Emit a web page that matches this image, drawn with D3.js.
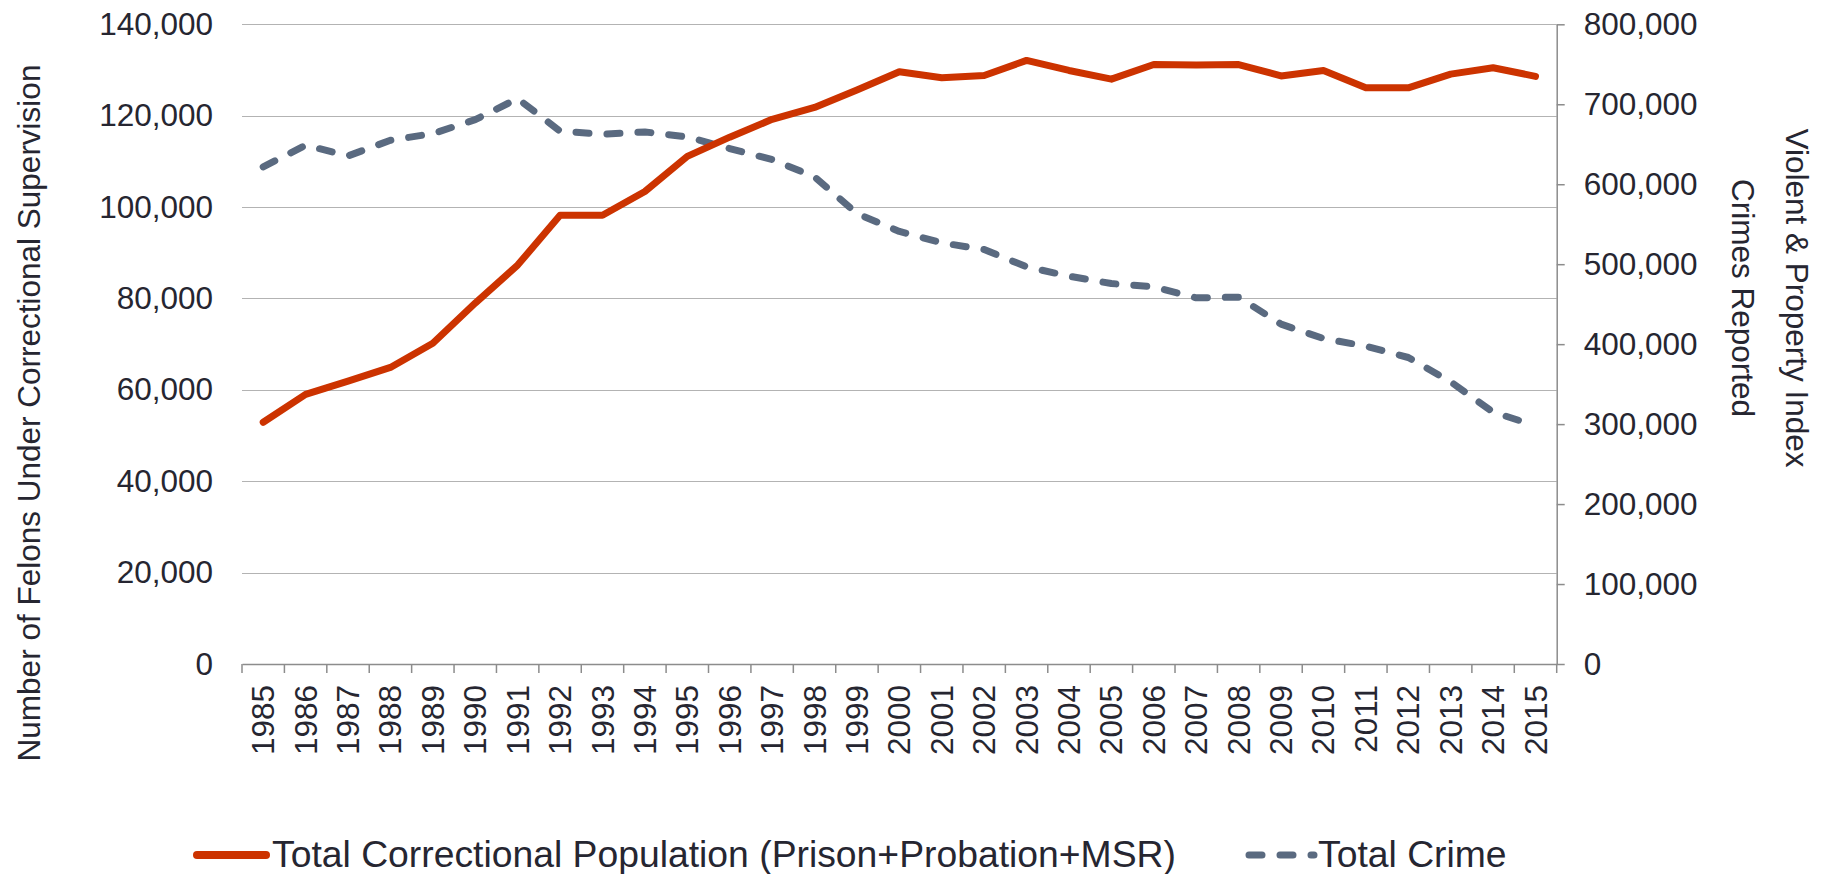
<!DOCTYPE html>
<html>
<head>
<meta charset="utf-8">
<script src="https://cdn.jsdelivr.net/npm/d3@7"></script>
<style>
  html, body { margin: 0; padding: 0; background: #ffffff; }
  svg { display: block; }
  text { font-family: "Liberation Sans", Arial, sans-serif; fill: #262631; }
</style>
</head>
<body>
<svg id="chart" width="1828" height="874"></svg>
<script>
const years = ["1985","1986","1987","1988","1989","1990","1991","1992","1993","1994","1995","1996","1997","1998","1999","2000","2001","2002","2003","2004","2005","2006","2007","2008","2009","2010","2011","2012","2013","2014","2015"];
const correctional = [52900, 59000, 61900, 64900, 70200, 79000, 87300, 98200, 98200, 103400, 111100, 115300, 119200, 121800, 125600, 129600, 128300, 128800, 132100, 129900, 128000, 131200, 131100, 131200, 128700, 129900, 126100, 126100, 129100, 130500, 128600];
const crime = [621700, 648800, 635400, 655000, 663300, 680800, 707100, 666300, 662500, 665400, 659200, 644600, 630800, 609200, 563300, 541000, 526700, 518300, 496700, 485000, 475800, 471700, 457900, 458800, 425000, 407100, 397500, 383300, 352900, 315000, 298000];
const leftTicks = [0, 20000, 40000, 60000, 80000, 100000, 120000, 140000];
const rightTicks = [0, 100000, 200000, 300000, 400000, 500000, 600000, 700000, 800000];
const seriesNames = ["Total Correctional Population (Prison+Probation+MSR)", "Total Crime"];
const leftTitle = "Number of Felons Under Correctional Supervision";
const rightTitleLines = ["Violent & Property Index", "Crimes Reported"];

const RED = "#cc3300", SLATE = "#5a6a80", GRID = "#b3b3b3", AXIS = "#8c8c8c";
const svg = d3.select("#chart");
const L = 242, R = 1556.7, T = 24.3, B = 664;

const x = d3.scaleBand().domain(years).range([L, R]).padding(0);
const yL = d3.scaleLinear().domain([0, 140000]).range([B, T]);
const yR = d3.scaleLinear().domain([0, 800000]).range([B, T]);
const fmt = d3.format(",");

// gridlines
svg.append("g").selectAll("line").data(leftTicks.filter(d => d > 0)).join("line")
  .attr("x1", L).attr("x2", R)
  .attr("y1", d => Math.round(yL(d)) + 0.5).attr("y2", d => Math.round(yL(d)) + 0.5)
  .attr("stroke", GRID).attr("stroke-width", 1);

// left axis labels (no line)
const gl = svg.append("g").attr("transform", `translate(${L},0)`)
  .call(d3.axisLeft(yL).tickValues(leftTicks).tickFormat(fmt).tickSize(0).tickPadding(29));
gl.select(".domain").remove();
gl.selectAll("text").attr("font-size", 31.5).attr("fill", "#262631")
  .style("font-family", '"Liberation Sans", Arial, sans-serif');

// right axis
const gr = svg.append("g").attr("transform", `translate(${R},0)`)
  .call(d3.axisRight(yR).tickValues(rightTicks).tickFormat(fmt).tickSize(8).tickSizeOuter(0).tickPadding(19));
gr.select(".domain").attr("stroke", AXIS).attr("stroke-width", 1.5);
gr.selectAll(".tick line").attr("stroke", AXIS).attr("stroke-width", 1.5);
gr.selectAll("text").attr("font-size", 31.5).attr("fill", "#262631")
  .style("font-family", '"Liberation Sans", Arial, sans-serif');

// bottom axis
const gb = svg.append("g").attr("transform", `translate(0,${B})`)
  .call(d3.axisBottom(x).tickSize(0).tickPadding(0));
gb.select(".domain").attr("stroke", AXIS).attr("stroke-width", 1.5);
gb.selectAll(".tick text")
  .attr("font-size", 31.5).attr("fill", "#262631")
  .style("font-family", '"Liberation Sans", Arial, sans-serif')
  .attr("text-anchor", "end")
  .attr("transform", "rotate(-90)")
  .attr("x", -21).attr("y", 0).attr("dy", "0.35em");
// boundary ticks
const bounds = years.map(d => x(d)).concat([x(years[years.length - 1]) + x.bandwidth()]);
svg.append("g").selectAll("line").data(bounds).join("line")
  .attr("x1", d => d).attr("x2", d => d).attr("y1", B).attr("y2", B + 9)
  .attr("stroke", AXIS).attr("stroke-width", 1.5);

// lines
const cx = d => x(d) + x.bandwidth() / 2;
const lineL = d3.line().x((d, i) => cx(years[i])).y(d => yL(d));
const lineR = d3.line().x((d, i) => cx(years[i])).y(d => yR(d));

svg.append("path").datum(crime).attr("d", lineR)
  .attr("fill", "none").attr("stroke", SLATE).attr("stroke-width", 7)
  .attr("stroke-dasharray", "13,18").attr("stroke-linecap", "round").attr("stroke-linejoin", "round");
svg.append("path").datum(correctional).attr("d", lineL)
  .attr("fill", "none").attr("stroke", RED).attr("stroke-width", 7)
  .attr("stroke-linecap", "round").attr("stroke-linejoin", "round");

// axis titles
svg.append("text").attr("transform", "translate(40,413) rotate(-90)")
  .attr("text-anchor", "middle").attr("font-size", 31.5).text(leftTitle);
svg.append("g").attr("transform", "translate(1786,298) rotate(90)")
  .selectAll("text").data(rightTitleLines).join("text")
  .attr("text-anchor", "middle").attr("font-size", 31.5)
  .attr("x", 0).attr("y", (d, i) => i * 54)
  .text(d => d);

// legend
const leg = svg.append("g");
leg.append("line").attr("x1", 197).attr("x2", 266).attr("y1", 855).attr("y2", 855)
  .attr("stroke", RED).attr("stroke-width", 8).attr("stroke-linecap", "round");
leg.append("text").attr("x", 272).attr("y", 867).attr("font-size", 37.3).text(seriesNames[0]);
leg.append("line").attr("x1", 1249).attr("x2", 1314).attr("y1", 855).attr("y2", 855)
  .attr("stroke", SLATE).attr("stroke-width", 7).attr("stroke-linecap", "round")
  .attr("stroke-dasharray", "13,18");
leg.append("text").attr("x", 1318).attr("y", 867).attr("font-size", 37.3).text(seriesNames[1]);
</script>
</body>
</html>
